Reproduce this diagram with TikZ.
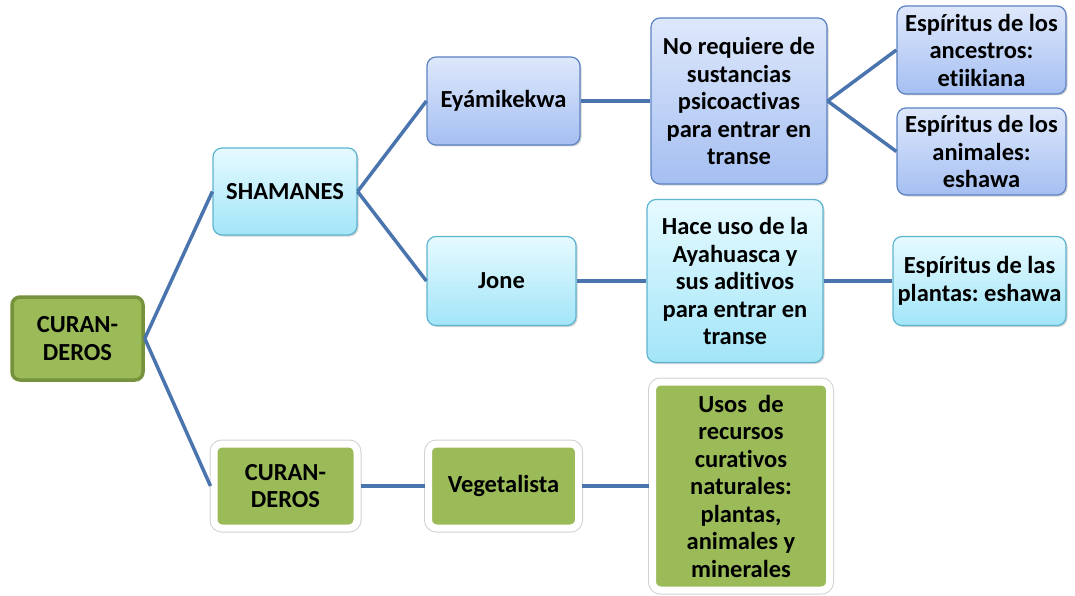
\documentclass[tikz,border=0pt]{standalone}
\usepackage{fontspec}
\setmainfont{Carlito}[Ligatures={TeX,NoCommon}]
\frenchspacing
\usetikzlibrary{shadows}
\definecolor{leafgreen}{HTML}{9BBB59}
\definecolor{darkleaf}{HTML}{76923C}
\definecolor{skyline}{HTML}{4A74AE}
\definecolor{bluetop}{HTML}{DEE8FB}
\definecolor{bluebot}{HTML}{A5BFF2}
\definecolor{blueedge}{HTML}{5C82C2}
\definecolor{cyantop}{HTML}{E6FAFF}
\definecolor{cyanbot}{HTML}{A2E5F8}
\definecolor{cyanedge}{HTML}{5DB4D0}

\tikzset{
  every node/.style={font=\bfseries\fontsize{24.5}{27.5}\selectfont, align=center, inner sep=2pt},
  rootbox/.style={rounded corners=8pt, fill=leafgreen, draw=darkleaf, line width=3.5pt},
  bluebox/.style={rounded corners=9pt, top color=bluetop, bottom color=bluebot, draw=blueedge, line width=1.2pt,
    drop shadow={shadow xshift=1.5pt, shadow yshift=-1.5pt, opacity=0.35}},
  cyanbox/.style={rounded corners=9pt, top color=cyantop, bottom color=cyanbot, draw=cyanedge, line width=1.2pt,
    drop shadow={shadow xshift=1.5pt, shadow yshift=-1.5pt, opacity=0.35}},
  greenbox/.style={rounded corners=8pt, fill=leafgreen, draw=white, line width=7pt,
    preaction={draw=black!18, line width=9pt},
    drop shadow={shadow xshift=2pt, shadow yshift=-2pt, opacity=0.3}},
  conn/.style={draw=skyline, line width=3.5pt},
}

\begin{document}
\begin{tikzpicture}[x=1pt, y=-1pt]
    \useasboundingbox (0,0) rectangle (1075,596);

    % first column
    \node[rootbox, minimum width=131pt, minimum height=83pt] (root) at (77.5,338.5) {CURAN-\\DEROS};

    % second column
    \node[cyanbox, minimum width=144pt, minimum height=87pt] (sham) at (285,191.5) {SHAMANES};
    \node[greenbox, minimum width=143pt, minimum height=84pt] (cur) at (285.5,486) {CURAN-\\DEROS};

    % third column
    \node[bluebox, minimum width=153pt, minimum height=88pt] (eya) at (503.5,101) {Ey\'amikekwa};
    \node[cyanbox, minimum width=149pt, minimum height=89pt] (jone) at (501.5,281) {Jone};
    \node[greenbox, minimum width=150pt, minimum height=84pt] (veg) at (503.5,486) {Vegetalista};

    % fourth column
    \node[bluebox, minimum width=176pt, minimum height=166pt] (noreq) at (739,101)
        {No requiere de\\sustancias\\psicoactivas\\para entrar en\\transe};
    \node[cyanbox, minimum width=176pt, minimum height=163pt] (ayah) at (735,281)
        {Hace uso de la\\Ayahuasca y\\sus aditivos\\para entrar en\\transe};
    \node[greenbox, minimum width=177pt, minimum height=208pt] (usos) at (741,486)
        {Usos~~de\\recursos\\curativos\\naturales:\\plantas,\\animales y\\minerales};

    % fifth column
    \node[bluebox, minimum width=169pt, minimum height=88pt] (ances) at (981.5,50) {Esp\'iritus de los\\ancestros:\\etiikiana};
    \node[bluebox, minimum width=169pt, minimum height=87pt] (anim) at (981.5,151.5) {Esp\'iritus de los\\animales:\\eshawa};
    \node[cyanbox, minimum width=173pt, minimum height=89pt] (plant) at (979.5,281) {Esp\'iritus de las\\plantas: eshawa};

    % connectors
    \draw[conn] (root.east) -- (sham.west);
    \draw[conn] (root.east) -- (cur.west);
    \draw[conn] (sham.east) -- (eya.west);
    \draw[conn] (sham.east) -- (jone.west);
    \draw[conn] (eya.east) -- (noreq.west);
    \draw[conn] (jone.east) -- (ayah.west);
    \draw[conn] (cur.east) -- (veg.west);
    \draw[conn] (veg.east) -- (usos.west);
    \draw[conn] (noreq.east) -- (ances.west);
    \draw[conn] (noreq.east) -- (anim.west);
    \draw[conn] (ayah.east) -- (plant.west);
\end{tikzpicture}
\end{document}
